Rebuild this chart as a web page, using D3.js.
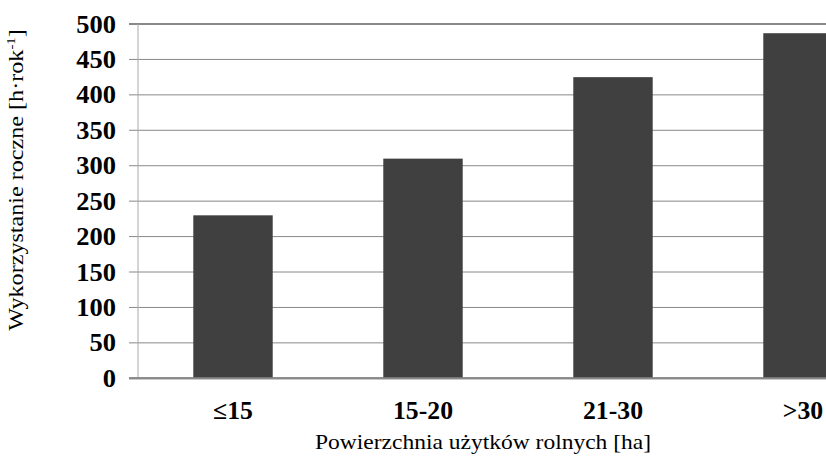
<!DOCTYPE html>
<html><head><meta charset="utf-8">
<script src="https://cdn.jsdelivr.net/npm/d3@7/dist/d3.min.js"></script>
<style>body{margin:0;background:#fff;} svg{display:block;}</style>
</head><body>
<svg id="c" width="826" height="459"></svg>
<script>
const categories = ["≤15", "15-20", "21-30", ">30"];
const values = [230, 310, 425, 487];
const yTicks = [0, 50, 100, 150, 200, 250, 300, 350, 400, 450, 500];

const svg = d3.select("#c");
const plotLeft = 138, plotTop = 24, plotBottom = 378.3, step = 190;
const x = d3.scaleBand().domain(categories).range([plotLeft, plotLeft + step * categories.length]).paddingInner(0.582).paddingOuter(0.291);
const y = d3.scaleLinear().domain([0, 500]).range([plotBottom, plotTop]);

const serif = "Liberation Serif";

// gridlines
svg.append("g").selectAll("line").data(yTicks).join("line")
  .attr("x1", 129).attr("x2", 826)
  .attr("y1", d => y(d)).attr("y2", d => y(d))
  .attr("stroke", "#888")
  .attr("stroke-width", d => (d === 500 || d === 0) ? 2 : 1);

// y axis line
svg.append("line").attr("x1", plotLeft).attr("x2", plotLeft).attr("y1", y(500)).attr("y2", y(0))
  .attr("stroke", "#aaa").attr("stroke-width", 1);

// bars
svg.append("g").selectAll("rect").data(values).join("rect")
  .attr("x", (d, i) => x(categories[i]))
  .attr("width", x.bandwidth())
  .attr("y", d => y(d))
  .attr("height", d => y(0) - y(d))
  .attr("fill", "#404040");

// redraw zero line on top
svg.append("line").attr("x1", 129).attr("x2", 826).attr("y1", y(0)).attr("y2", y(0))
  .attr("stroke", "#888").attr("stroke-width", 2);

// y tick labels
svg.append("g").selectAll("text").data(yTicks).join("text")
  .attr("transform", d => `translate(116,${y(d)}) scale(1.06,1)`)
  .attr("dy", "0.34em")
  .attr("text-anchor", "end")
  .style("font-family", serif).style("font-weight", "bold").style("font-size", "25px")
  .text(d => d);

// x category labels
svg.append("g").selectAll("text").data(categories).join("text")
  .attr("transform", d => `translate(${x(d) + x.bandwidth() / 2},419) scale(1.03,1)`)
  .attr("text-anchor", "middle")
  .style("font-family", serif).style("font-weight", "bold").style("font-size", "25px")
  .text(d => d);

// x axis title
svg.append("text").attr("transform", "translate(483,449) scale(1.12,1)").attr("text-anchor", "middle")
  .style("font-family", serif).style("font-size", "21px")
  .text("Powierzchnia użytków rolnych [ha]");

// y axis title
const yt = svg.append("text").attr("transform", "translate(23,180) rotate(-90) scale(1.15,1)")
  .attr("text-anchor", "middle").style("font-family", serif).style("font-size", "21px");
yt.append("tspan").text("Wykorzystanie roczne [h·rok");
yt.append("tspan").attr("dy", -8).style("font-size", "13px").text("-1");
yt.append("tspan").attr("dy", 8).text("]");
</script>
</body></html>
